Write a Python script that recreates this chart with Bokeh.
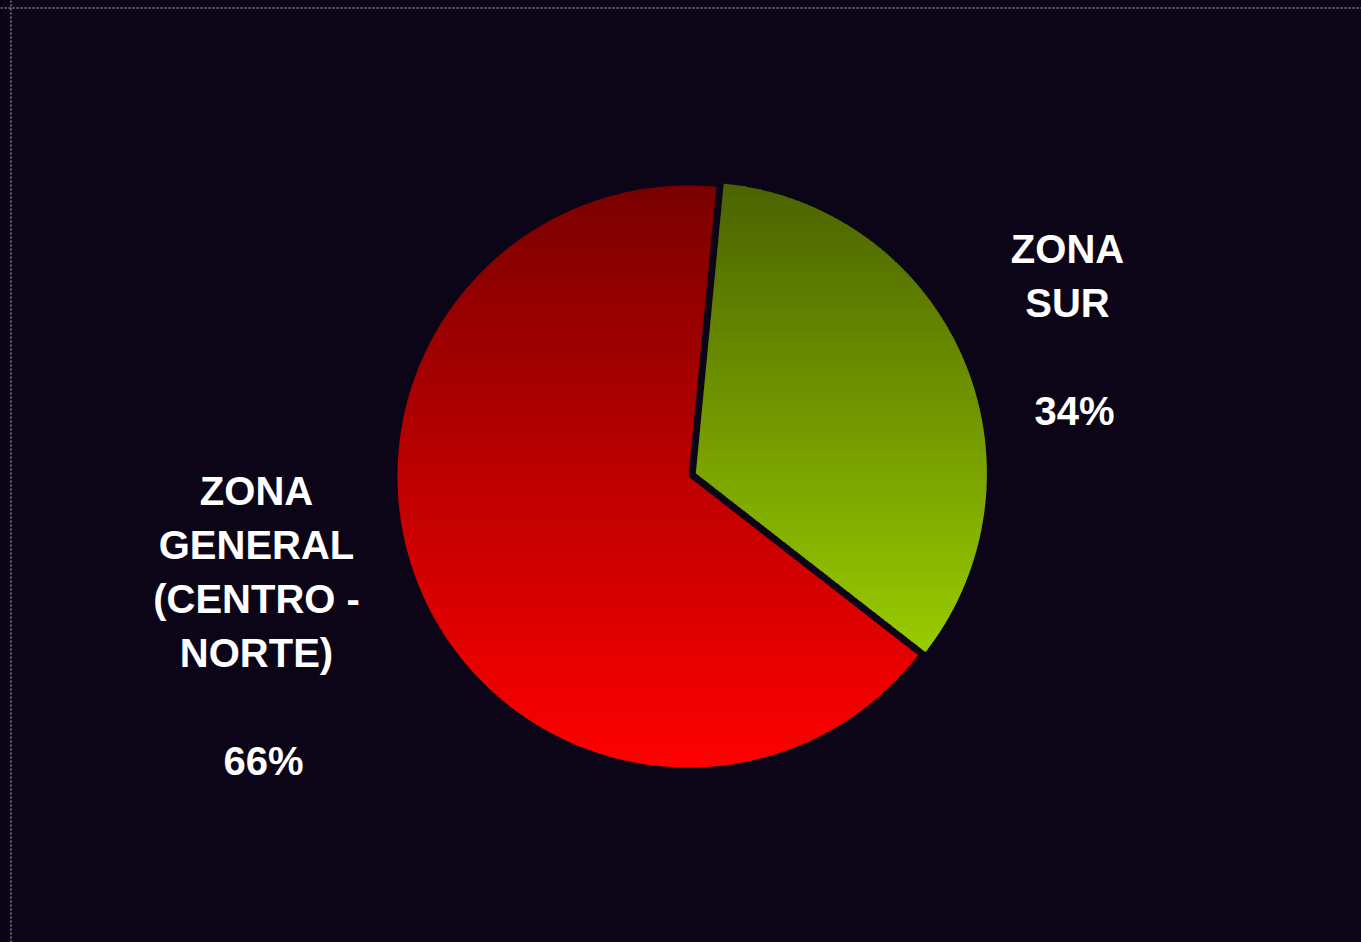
import math
from bokeh.plotting import figure
from bokeh.models import Range1d, Span
from bokeh.embed import file_html
from bokeh.resources import INLINE
from bokeh.core.properties import value

# ---- data ----
categories = ["ZONA GENERAL (CENTRO - NORTE)", "ZONA SUR"]
values = [66, 34]
label_lines = [
    ["ZONA", "GENERAL", "(CENTRO -", "NORTE)", "", "66%"],
    ["ZONA", "SUR", "", "34%"],
]

# ---- style ----
BG = "#0b0517"
W, H = 1361, 942
cx, cy, R = 688.0, 476.0, 291.0
start_deg = 5.5           # clockwise from 12 o'clock where ZONA SUR starts
explode = [0.0, 8.0]
top_colors = [(0x7a, 0x00, 0x00), (0x4b, 0x63, 0x00)]
bot_colors = [(0xff, 0x00, 0x00), (0x99, 0xcc, 0x00)]
label_pos = [(256, 490, 54), (1067, 248, 54)]
pct_dx = 7

p = figure(width=W, height=H, output_backend="svg", toolbar_location=None,
           x_range=Range1d(0, W), y_range=Range1d(H, 0),
           min_border=0)
p.axis.visible = False
p.grid.visible = False
p.outline_line_color = None
p.background_fill_color = BG
p.border_fill_color = BG

for loc, dim in [(10.5, "height"), (7.5, "width")]:
    p.add_layout(Span(location=loc, dimension=dim, line_color="#c4c4cc",
                      line_width=1, line_dash="2 2"))

total = float(sum(values))
a = start_deg
# ZONA SUR first clockwise from top, then ZONA GENERAL
order = [1, 0]
ang = {}
for i in order:
    sweep = values[i] / total * 360.0
    ang[i] = (a, a + sweep)
    a += sweep


def wedge_poly(i):
    a0, a1 = ang[i]
    mid = math.radians((a0 + a1) / 2)
    ox, oy = explode[i] * math.sin(mid), -explode[i] * math.cos(mid)
    ccx, ccy = cx + ox, cy + oy
    n = max(8, int((a1 - a0) * 3))
    pts = [(ccx, ccy)]
    for k in range(n + 1):
        t = math.radians(a0 + (a1 - a0) * k / n)
        pts.append((ccx + R * math.sin(t), ccy - R * math.cos(t)))
    return pts


def clip(poly, y0, y1):
    def clip_edge(pts, inside, inter):
        out = []
        if not pts:
            return out
        prev = pts[-1]
        for cur in pts:
            if inside(cur):
                if not inside(prev):
                    out.append(inter(prev, cur))
                out.append(cur)
            elif inside(prev):
                out.append(inter(prev, cur))
            prev = cur
        return out

    def mk_inter(yc):
        def f(pa, pb):
            t = (yc - pa[1]) / (pb[1] - pa[1])
            return (pa[0] + t * (pb[0] - pa[0]), yc)
        return f

    r = clip_edge(poly, lambda q: q[1] >= y0, mk_inter(y0))
    r = clip_edge(r, lambda q: q[1] <= y1, mk_inter(y1))
    return r


xs, ys, cols = [], [], []
for i in range(len(values)):
    poly = wedge_poly(i)
    ymin = min(q[1] for q in poly)
    ymax = max(q[1] for q in poly)
    nb = 160
    h = (ymax - ymin) / nb
    for b in range(nb):
        y0 = ymin + b * h
        y1 = min(ymax, y0 + h + 0.8)
        piece = clip(poly, y0, y1)
        if len(piece) < 3:
            continue
        f = (b + 0.5) / nb
        c = tuple(int(round(top_colors[i][k] + (bot_colors[i][k] - top_colors[i][k]) * f)) for k in range(3))
        xs.append([q[0] for q in piece])
        ys.append([q[1] for q in piece])
        cols.append("#%02x%02x%02x" % c)

p.patches(xs, ys, fill_color=cols, line_color=None)

for i, lines in enumerate(label_lines):
    lx, ly, lh = label_pos[i]
    tx, ty, tt = [], [], []
    for j, s in enumerate(lines):
        if not s:
            continue
        tx.append(lx + (pct_dx if s.endswith("%") else 0))
        ty.append(ly + j * lh)
        tt.append(s)
    p.text(x=tx, y=ty, text=tt, text_color="white", text_font=value("Liberation Sans"),
           text_font_style="bold", text_font_size="40px", text_align="center",
           text_baseline="alphabetic")

html = file_html(p, INLINE).replace(
    "<head>", "<head><style>html,body{background:%s;overflow:hidden;}</style>" % BG, 1)
open("out.html", "w").write(html)
